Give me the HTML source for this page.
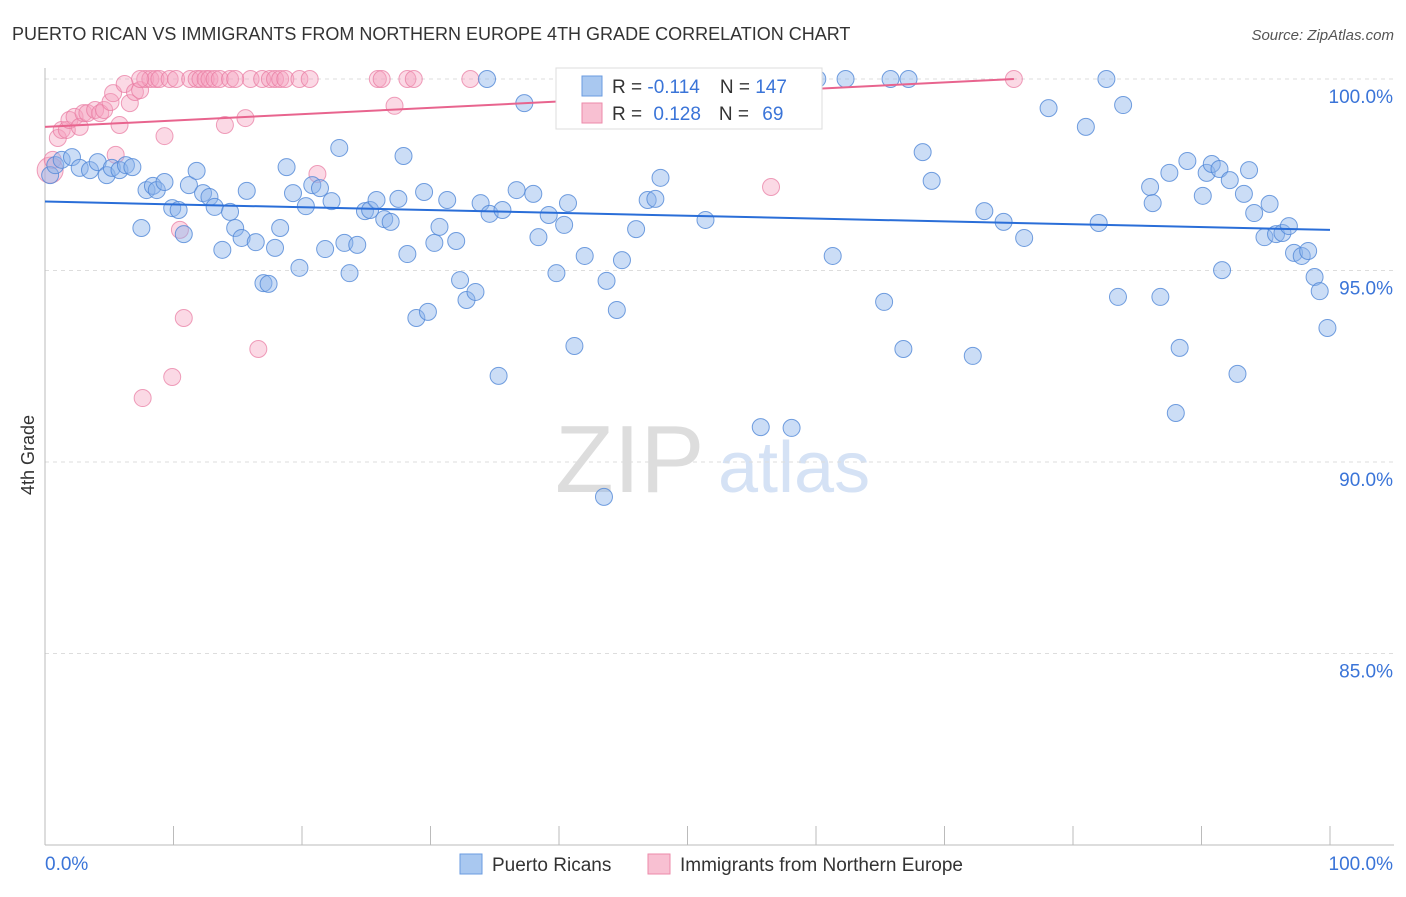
<!DOCTYPE html>
<html><head><meta charset="utf-8"><style>
body{margin:0;background:#fff;font-family:"Liberation Sans",sans-serif;}
svg text{font-family:"Liberation Sans",sans-serif;}
</style></head><body>
<svg width="1406" height="892" id="chart">
<text x="12" y="40" font-size="18" fill="#333">PUERTO RICAN VS IMMIGRANTS FROM NORTHERN EUROPE 4TH GRADE CORRELATION CHART</text>
<text x="1394" y="40" font-size="15" fill="#555" text-anchor="end" font-style="italic">Source: ZipAtlas.com</text>
<text x="34" y="455" font-size="18" fill="#333" text-anchor="middle" transform="rotate(-90 34 455)">4th Grade</text>
<text x="555" y="492" font-size="96" fill="#ddd" font-family="Liberation Serif">ZIP</text>
<text x="718" y="492" font-size="72" fill="#d5e2f5">atlas</text>
<g id="grid"></g><g id="pts"></g><g id="lines"></g>
<g>
<rect x="556" y="68" width="266" height="61" fill="#fff" stroke="#ddd"/>
<rect x="582" y="76" width="20" height="20" fill="#a9c8f0" stroke="#6a9be0"/>
<rect x="582" y="103" width="20" height="20" fill="#f8c0d2" stroke="#ec8aaa"/>
<text x="612" y="93" font-size="19" fill="#333">R = <tspan fill="#3a74d8">-0.114</tspan><tspan dx="20">N = </tspan><tspan fill="#3a74d8">147</tspan></text>
<text x="612" y="120" font-size="19" fill="#333">R = <tspan dx="6" fill="#3a74d8">0.128</tspan><tspan dx="18">N = </tspan><tspan dx="8" fill="#3a74d8">69</tspan></text>
</g>
<g>
<rect x="460" y="854" width="22" height="20" fill="#a9c8f0" stroke="#6a9be0"/>
<text x="492" y="871" font-size="19" fill="#333">Puerto Ricans</text>
<rect x="648" y="854" width="22" height="20" fill="#f8c0d2" stroke="#ec8aaa"/>
<text x="680" y="871" font-size="19" fill="#333">Immigrants from Northern Europe</text>
</g>
</svg>
<script>
const yTicks=[100,95,90,85];
const xTickVals=[0,10,20,30,40,50,60,70,80,90,100];
const blueX=[0.4,0.8,1.3,2.1,2.7,3.5,4.1,4.8,5.2,5.8,6.3,6.8,7.5,7.9,8.4,8.7,9.3,9.9,10.4,10.8,11.2,11.8,12.3,12.8,13.2,13.8,14.4,14.8,15.3,15.7,16.4,17.0,17.4,17.9,18.3,18.8,19.3,19.8,20.3,20.8,21.4,21.8,22.3,22.9,23.3,23.7,24.3,24.9,25.3,25.8,26.4,26.9,27.5,27.9,28.2,28.9,29.5,29.8,30.3,30.7,31.3,32.0,32.3,32.8,33.5,33.9,34.4,34.6,35.3,35.6,36.7,37.3,38.0,38.4,39.2,39.8,40.4,40.7,41.2,42.0,43.5,43.7,44.5,44.9,46.0,46.9,47.5,47.9,49.1,51.4,55.7,58.1,59.3,60.1,62.3,61.3,65.3,65.8,66.8,67.2,68.3,69.0,72.2,73.1,74.6,76.2,78.1,81.0,82.0,82.6,83.5,83.9,86.0,86.2,86.8,87.5,88.0,88.3,88.9,90.1,90.4,90.8,91.4,91.6,92.2,92.8,93.3,93.7,94.1,94.9,95.3,95.8,96.3,96.8,97.2,97.8,98.3,98.8,99.2,99.8];
const blueY=[97.49,97.75,97.89,97.96,97.68,97.62,97.83,97.49,97.68,97.62,97.75,97.70,96.11,97.10,97.21,97.10,97.31,96.63,96.58,95.95,97.23,97.60,97.02,96.92,96.66,95.54,96.53,96.11,95.85,97.08,95.74,94.67,94.65,95.59,96.11,97.70,97.02,95.07,96.68,97.23,97.15,95.56,96.81,98.20,95.72,94.93,95.67,96.55,96.58,96.84,96.34,96.27,96.87,97.99,95.43,93.76,97.05,93.92,95.72,96.14,96.84,95.77,94.75,94.23,94.44,96.76,100,96.48,92.25,96.58,97.10,99.37,97.00,95.87,96.45,94.93,96.19,96.76,93.03,95.38,89.09,94.73,93.97,95.27,96.08,96.84,96.87,97.42,100,96.32,90.91,90.89,100,100,100,95.38,94.18,100,92.95,100,98.09,97.34,92.77,96.55,96.27,95.85,99.24,98.75,96.24,100,94.31,99.32,97.18,96.76,94.31,97.55,91.28,92.98,97.86,96.95,97.55,97.78,97.65,95.01,97.36,92.30,97.00,97.62,96.50,95.87,96.74,95.95,95.98,96.16,95.46,95.38,95.51,94.83,94.46,93.50];
const pinkX=[0.4,0.6,1.0,1.3,1.7,1.9,2.3,2.7,3.0,3.3,3.9,4.3,4.6,5.1,5.3,5.5,5.8,6.2,6.6,7.0,7.4,7.8,8.2,8.6,8.9,9.3,9.7,9.9,10.2,10.5,10.8,11.3,11.8,12.1,12.5,12.8,13.2,13.6,14.0,14.4,15.6,16.0,16.6,16.9,17.5,17.9,18.3,18.7,19.8,20.6,21.2,25.9,26.2,27.2,28.2,28.7,33.1,56.5,75.4,7.6,7.4,14.8];
const pinkY=[97.62,97.89,98.46,98.67,98.67,98.93,99.01,98.75,99.11,99.11,99.19,99.11,99.19,99.40,99.63,98.02,98.80,99.87,99.37,99.66,99.71,100,100,100,100,98.51,100,92.22,100,96.06,93.76,100,100,100,100,100,100,100,98.80,100,98.98,100,92.95,100,100,100,100,100,100,100,97.52,100,100,99.30,100,100,100,97.18,100,91.67,100,100];
const blueTrend=[96.8,96.06];
const pinkTrend=[98.75,100,75.4];
const NS="http://www.w3.org/2000/svg";
const xs=v=>45+v*12.85, ys=v=>79+(100-v)*38.3;
function mk(t,a,p){const e=document.createElementNS(NS,t);for(const k in a)e.setAttribute(k,a[k]);p.appendChild(e);return e;}
const g=document.getElementById('grid');
yTicks.forEach(t=>{const l=mk('line',{x1:45,x2:1394,y1:ys(t),y2:ys(t),stroke:'#ddd','stroke-dasharray':'4,4'},g);


const tx=mk('text',{x:1393,y:ys(t)+24,'font-size':19,fill:'#3a74d8','text-anchor':'end'},g);tx.textContent=t.toFixed(1)+'%';

});
mk('line',{x1:45,x2:45,y1:68,y2:845,stroke:'#bbb'},g);
mk('line',{x1:45,x2:1394,y1:845,y2:845,stroke:'#bbb'},g);
xTickVals.forEach(t=>{const l=mk('line',{x1:xs(t),x2:xs(t),y1:826,y2:845,stroke:'#bbb'},g);

});
[[0,'0.0%','start',45],[100,'100.0%','end',1393]].forEach(a=>{const tx=mk('text',{x:a[3],y:870,'font-size':19,fill:'#3a74d8','text-anchor':a[2]},g);tx.textContent=a[1];

});
const p=document.getElementById('pts');
pinkX.forEach((x,i)=>{const c=mk('circle',{cx:xs(x),cy:ys(pinkY[i]),r:i==0?13:8.5,fill:'rgba(244,160,190,0.4)',stroke:'rgba(232,120,160,0.7)','stroke-width':1},p);

});
blueX.forEach((x,i)=>{const c=mk('circle',{cx:xs(x),cy:ys(blueY[i]),r:8.5,fill:'rgba(140,180,235,0.45)',stroke:'rgba(80,135,215,0.8)','stroke-width':1},p);

});
const L=document.getElementById('lines');
const bl=mk('line',{x1:xs(0),y1:ys(blueTrend[0]),x2:xs(100),y2:ys(blueTrend[1]),stroke:'#2a6ed8','stroke-width':2},L);


const pl=mk('line',{x1:xs(0),y1:ys(pinkTrend[0]),x2:xs(pinkTrend[2]),y2:ys(pinkTrend[1]),stroke:'#e8648e','stroke-width':2},L);


</script>
</body></html>
